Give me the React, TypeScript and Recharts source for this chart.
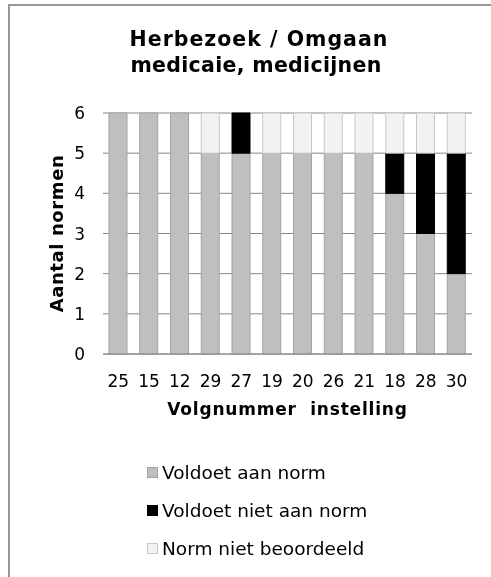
import { BarChart, Bar, XAxis, YAxis, CartesianGrid, Legend } from "recharts";

const instellingen = ["25", "15", "12", "29", "27", "19", "20", "26", "21", "18", "28", "30"];
const voldoet = [6, 6, 6, 5, 5, 5, 5, 5, 5, 4, 3, 2];
const voldoetNiet = [0, 0, 0, 0, 1, 0, 0, 0, 0, 1, 2, 3];
const nietBeoordeeld = [0, 0, 0, 1, 0, 1, 1, 1, 1, 1, 1, 1];
const yTicks = [0, 1, 2, 3, 4, 5, 6];

const data = instellingen.map((nr, i) => ({
  nr,
  voldoet: voldoet[i],
  niet: voldoetNiet[i],
  nb: nietBeoordeeld[i],
}));

const series = [
  { key: "voldoet", name: "Voldoet aan norm", fill: "#bfbfbf", stroke: "#a3a3a3" },
  { key: "niet", name: "Voldoet niet aan norm", fill: "#000000", stroke: "#000000" },
  { key: "nb", name: "Norm niet beoordeeld", fill: "#f2f2f2", stroke: "#c8c8c8" },
];

const font = "'DejaVu Sans', Verdana, sans-serif";

const XTitle = ({ viewBox }: any) => (
  <text
    x={viewBox.x + viewBox.width / 2}
    y={viewBox.y + 61}
    textAnchor="middle"
    fontSize={17}
    fontWeight="bold"
    letterSpacing={0.8}
    fill="#000"
    style={{ whiteSpace: "pre" }}
  >
    {"Volgnummer  instelling"}
  </text>
);

const YTitle = () => (
  <text
    x={55}
    y={229.5}
    transform="rotate(-90, 55, 229.5)"
    textAnchor="middle"
    fontSize={18}
    fontWeight="bold"
    letterSpacing={0.6}
    fill="#000"
  >
    Aantal normen
  </text>
);

const LegendBox = () => (
  <div style={{ fontFamily: font, fontSize: 18.5, color: "#000" }}>
    {series.map((s) => (
      <div key={s.key} style={{ display: "flex", alignItems: "center", height: 38 }}>
        <span
          style={{
            display: "inline-block",
            width: 9,
            height: 9,
            background: s.fill,
            border: `1px solid ${s.stroke}`,
            marginRight: 4,
          }}
        />
        <span>{s.name}</span>
      </div>
    ))}
  </div>
);

const titleLine = { width: 400, textAlign: "center" as const, height: 26, whiteSpace: "nowrap" as const };

export default function App() {
  return (
    <div
      style={{
        position: "fixed",
        left: 8,
        top: 4,
        width: 520,
        height: 600,
        overflow: "hidden",
        fontFamily: font,
        borderLeft: "2px solid #969696",
        borderTop: "2px solid #969696",
        boxSizing: "border-box",
      }}
    >
      <div
        style={{
          position: "absolute",
          left: 46,
          top: 20,
          fontSize: 20.5,
          fontWeight: "bold",
          lineHeight: "26px",
        }}
      >
        <div style={{ ...titleLine, letterSpacing: 1.0, marginLeft: 3 }}>Herbezoek / Omgaan</div>
        <div style={{ ...titleLine, letterSpacing: 0.3 }}>medicaie, medicijnen</div>
      </div>
      <div style={{ position: "absolute", left: -2, top: -2 }}>
        <BarChart
          width={483}
          height={573}
          data={data}
          margin={{ top: 109, right: 19, left: 0, bottom: 153 }}
          barSize={18}
        >
          <CartesianGrid vertical={false} stroke="#868686" />
          <XAxis
            dataKey="nr"
            interval={0}
            height={70}
            tickSize={0}
            tickMargin={21}
            tickLine={false}
            axisLine={{ stroke: "#868686" }}
            tick={{ fill: "#000", fontSize: 17 }}
            label={<XTitle />}
          />
          <YAxis
            width={95}
            domain={[0, 6]}
            ticks={yTicks}
            tickSize={0}
            tickMargin={18}
            tickLine={false}
            axisLine={false}
            tick={{ fill: "#000", fontSize: 17 }}
            label={<YTitle />}
          />
          <Legend
            layout="vertical"
            align="center"
            verticalAlign="middle"
            content={<LegendBox />}
            wrapperStyle={{ position: "absolute", left: 139, top: 449, width: 300 }}
          />
          {series.map((s) => (
            <Bar
              key={s.key}
              dataKey={s.key}
              name={s.name}
              stackId="a"
              fill={s.fill}
              stroke={s.stroke}
              strokeWidth={1}
              isAnimationActive={false}
            />
          ))}
        </BarChart>
      </div>
    </div>
  );
}
